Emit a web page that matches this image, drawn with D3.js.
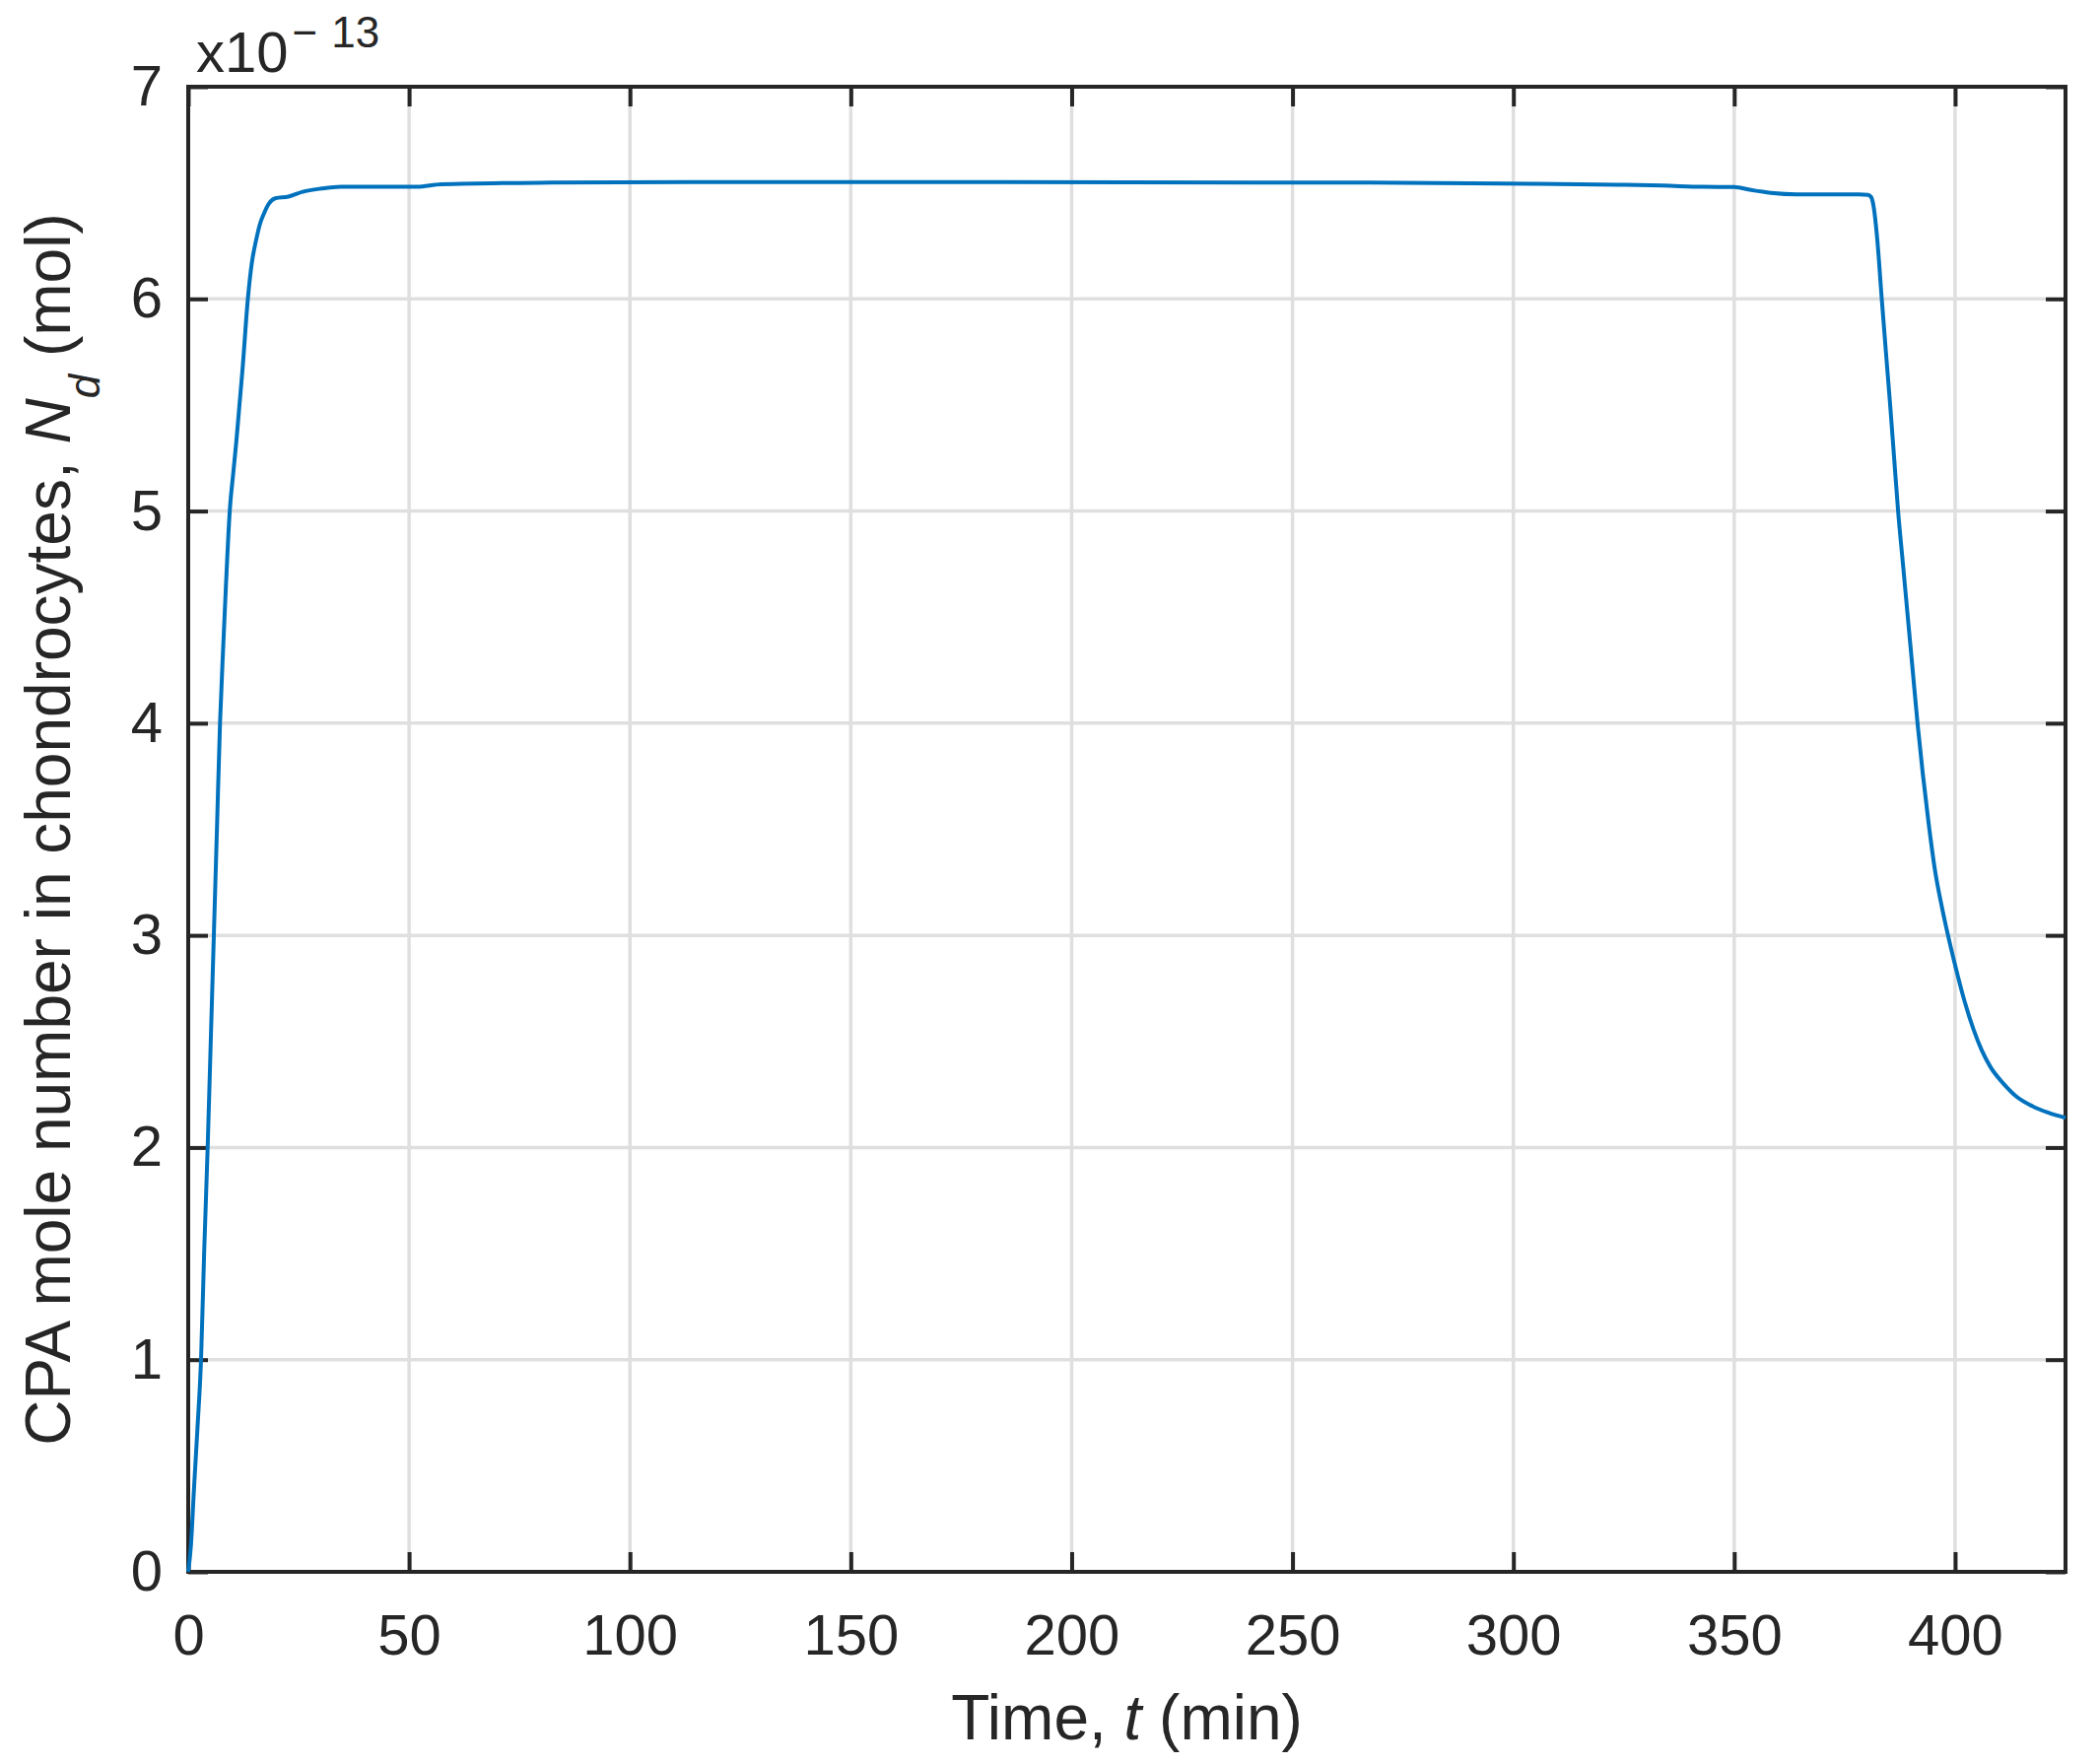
<!DOCTYPE html>
<html>
<head>
<meta charset="utf-8">
<script src="https://cdn.jsdelivr.net/npm/d3@7"></script>
<style>
  html, body { margin: 0; padding: 0; background: #fff; }
  text { font-family: "Liberation Sans", Arial, Helvetica, sans-serif; fill: #262626; }
</style>
</head>
<body>
<svg id="chart"></svg>
<script>
// time (min)
const timeMin = [0, 0.6, 1.3, 2.1, 2.9, 3.6, 4.4, 5.1, 5.8, 6.5, 7.2, 7.9, 8.5, 9.4, 10.2, 10.9, 11.6, 12.3, 13.5, 14.4,
  15.3, 16.2, 17.1, 18.3, 19.7, 22.7, 25.9, 30.2, 34.6, 51.8, 57.2, 82, 113.4, 169, 267.3, 304.7, 323.9, 333.9, 343,
  350, 353.8, 358.3, 364.2, 378.2, 380.3, 381.0, 381.6, 382.3, 383.4, 384.3, 385.3, 386.2, 387.1, 388.2, 389.3,
  390.4, 391.5, 392.7, 394.0, 395.5, 397.0, 398.4, 400, 402, 404.2, 406, 408, 411, 413.9, 417.5, 421, 425];
// CPA mole number, x1e-13 mol
const molesE13 = [0, 0.12, 0.39, 0.68, 1.0, 1.5, 2.0, 2.5, 3.0, 3.5, 4.0, 4.35, 4.63, 5.0, 5.18, 5.33, 5.5, 5.67, 6.0, 6.17,
  6.27, 6.35, 6.4, 6.45, 6.474, 6.482, 6.505, 6.52, 6.528, 6.528, 6.54, 6.548, 6.551, 6.551, 6.548, 6.543, 6.538, 6.534, 6.528,
  6.527, 6.513, 6.5, 6.493, 6.493, 6.49, 6.48, 6.43, 6.3, 6.0, 5.76, 5.5, 5.25, 5.0, 4.75, 4.5,
  4.25, 4.0, 3.76, 3.53, 3.30, 3.135, 3.0, 2.86, 2.70, 2.555, 2.46, 2.38, 2.30, 2.24, 2.195, 2.165, 2.14];

const xTicks = [0, 50, 100, 150, 200, 250, 300, 350, 400];
const yTicks = [0, 1, 2, 3, 4, 5, 6, 7];

const width = 2131;
const height = 1790;
const marginLeft = 191;
const marginRight = 35;
const marginTop = 88;
const marginBottom = 195;
const tickLen = 20;
const ink = "#262626";

const data = timeMin.map((t, i) => ({t: t, v: molesE13[i]}));

const x = d3.scaleLinear()
    .domain([0, 425])
    .range([marginLeft, width - marginRight]);

const y = d3.scaleLinear()
    .domain([0, 7])
    .range([height - marginBottom, marginTop]);

const svg = d3.select("#chart")
    .attr("width", width)
    .attr("height", height)
    .attr("viewBox", [0, 0, width, height]);

svg.append("rect").attr("width", width).attr("height", height).attr("fill", "#fff");

// grid
svg.append("g")
    .attr("stroke", "#dfdfdf")
    .attr("stroke-width", 3.5)
  .call(g => g.selectAll(".gx").data(xTicks).join("line")
      .attr("x1", d => x(d)).attr("x2", d => x(d))
      .attr("y1", y(7)).attr("y2", y(0)))
  .call(g => g.selectAll(".gy").data(yTicks).join("line")
      .attr("x1", x(0)).attr("x2", x(425))
      .attr("y1", d => y(d)).attr("y2", d => y(d)));

// inward ticks on all four sides (box on)
const styleAxis = g => {
  g.select(".domain").remove();
  g.selectAll(".tick line").attr("stroke", ink).attr("stroke-width", 4);
  g.selectAll(".tick text").attr("fill", ink).attr("font-size", 58);
};

svg.append("g")
    .attr("transform", `translate(0,${y(0)})`)
    .call(d3.axisBottom(x).tickValues(xTicks).tickSizeInner(-tickLen).tickSizeOuter(0).tickPadding(43))
    .call(styleAxis);

svg.append("g")
    .attr("transform", `translate(0,${y(7)})`)
    .call(d3.axisTop(x).tickValues(xTicks).tickSizeInner(-tickLen).tickSizeOuter(0).tickFormat(""))
    .call(styleAxis);

svg.append("g")
    .attr("transform", `translate(${x(0)},0)`)
    .call(d3.axisLeft(y).tickValues(yTicks).tickFormat(d3.format("d"))
      .tickSizeInner(-tickLen).tickSizeOuter(0).tickPadding(26))
    .call(styleAxis);

svg.append("g")
    .attr("transform", `translate(${x(425)},0)`)
    .call(d3.axisRight(y).tickValues(yTicks).tickSizeInner(-tickLen).tickSizeOuter(0).tickFormat(""))
    .call(styleAxis);

// box
svg.append("rect")
    .attr("x", x(0)).attr("y", y(7))
    .attr("width", x(425) - x(0)).attr("height", y(0) - y(7))
    .attr("fill", "none")
    .attr("stroke", ink)
    .attr("stroke-width", 4);

// the curve
const line = d3.line()
    .x(d => x(d.t))
    .y(d => y(d.v))
    .curve(d3.curveMonotoneX);

svg.append("path")
    .datum(data)
    .attr("fill", "none")
    .attr("stroke", "#0072BD")
    .attr("stroke-width", 4)
    .attr("stroke-linejoin", "round")
    .attr("d", line);

// exponent label
const ex = svg.append("text")
    .attr("x", 199)
    .attr("y", 73)
    .attr("font-size", 58);
ex.append("tspan").text("x10");
ex.append("tspan").attr("font-size", 44).attr("dy", -25).attr("dx", 4).text("\u2212");
ex.append("tspan").attr("font-size", 44).attr("dx", 14).text("13");

// x label
const xl = svg.append("text")
    .attr("x", (x(0) + x(425)) / 2)
    .attr("y", 1765)
    .attr("text-anchor", "middle")
    .attr("font-size", 64);
xl.append("tspan").text("Time,  ");
xl.append("tspan").attr("font-style", "italic").text("t");
xl.append("tspan").text(" (min)");

// y label
const yl = svg.append("text")
    .attr("transform", `translate(71,${(y(0) + y(7)) / 2}) rotate(-90)`)
    .attr("text-anchor", "middle")
    .attr("font-size", 64);
yl.append("tspan").text("CPA mole number in chondrocytes,  ");
yl.append("tspan").attr("font-style", "italic").text("N");
yl.append("tspan").attr("font-style", "italic").attr("font-size", 44).attr("dy", 30).text("d");
yl.append("tspan").attr("dy", -30).text(" (mol)");
</script>
</body>
</html>
